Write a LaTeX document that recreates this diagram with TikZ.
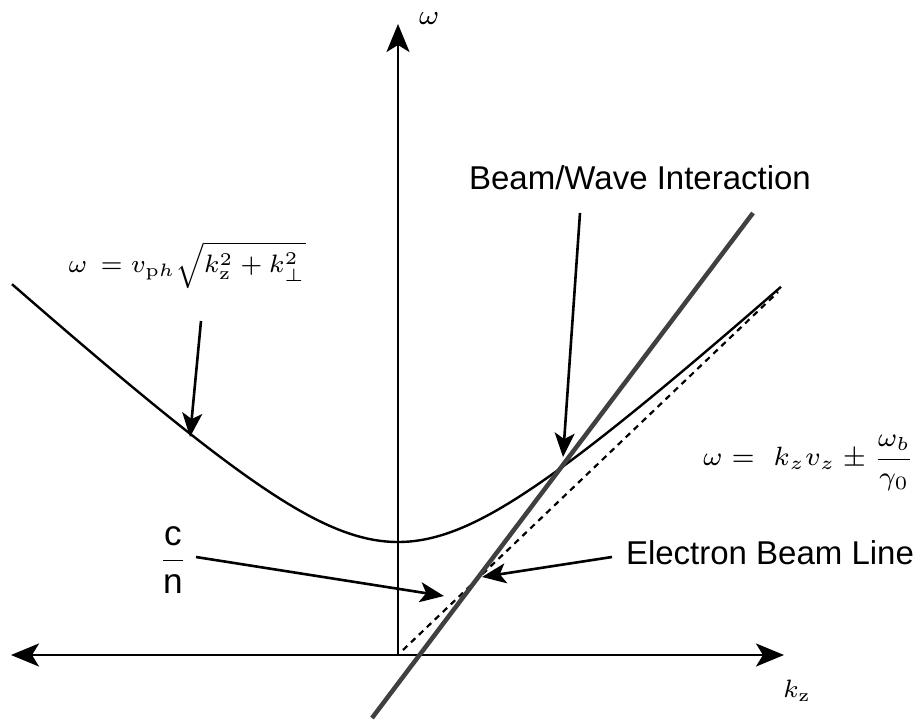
\documentclass[tikz,border=0pt]{standalone}
\usepackage{amsmath}
\usepackage{graphicx}
\usepackage{fontspec}
\newfontfamily\labfont{Liberation Sans}
\usetikzlibrary{arrows.meta}
\begin{document}
\begin{tikzpicture}[x=1pt,y=-1pt,
  axis/.style={line width=2.6pt,-{Stealth[length=28pt,width=23pt,inset=7pt]}},
  pointer/.style={line width=2.6pt,-{Stealth[length=24pt,width=20pt,inset=6pt]}},
  curve/.style={line width=2.4pt},
  beam/.style={line width=4.5pt,color=black!75},
  lab/.style={font=\labfont\fontsize{33}{40}\selectfont,inner sep=0pt},
  mathlab/.style={inner sep=0pt,font=\scriptsize}]
\useasboundingbox (0,0) rectangle (923,722);
% axes
\coordinate (O) at (398,655);
\coordinate (ytop) at (398,24);
\coordinate (xl) at (11,655);
\coordinate (xr) at (784,655);
\draw[axis] (O) -- (ytop);
\draw[axis,{Stealth[length=28pt,width=23pt,inset=7pt]}-{Stealth[length=28pt,width=23pt,inset=7pt]}] (xl) -- (xr);
\node[mathlab] (wlab) at (429,19) {\resizebox{21pt}{!}{$\omega$}};
\node[mathlab] (kzlab) at (797,691) {\resizebox{28pt}{!}{$k_{\mathrm{z}}$}};
% dispersion curve
\draw[curve] plot[domain=-3.86:3.83,samples=120,smooth] ({398+100*\x},{655-100*sqrt(1.2769+(0.915*\x)^2)});
% dotted asymptote
\coordinate (d1) at (403,650);
\coordinate (d2) at (778,292);
\draw[line width=2.2pt,dash pattern=on 6pt off 5pt] (d1) -- (d2);
% beam line
\coordinate (b1) at (372,718);
\coordinate (b2) at (753,213);
\draw[beam] (b1) -- (b2);
% labels
\node[mathlab] (f1) at (187,265) {\resizebox{237pt}{!}{$\omega\,=v_{\mathrm{p}h}\sqrt{k_{\mathrm{z}}^2+k_{\perp}^2}$}};
\node[mathlab] (f2) at (809,463) {\resizebox{212pt}{!}{$\omega=\ k_z v_z\pm\dfrac{\omega_b}{\gamma_0}$}};
\node[lab] (bw) at (640,178) {Beam/Wave Interaction};
\node[lab] (ebl) at (770,553) {Electron Beam Line};
\node[mathlab] (cn) at (173,560) {\resizebox{28pt}{!}{\normalsize$\dfrac{\hbox{\labfont c}}{\hbox{\labfont n}}$}};
% pointers
\coordinate (p1s) at (201,321);
\coordinate (p1e) at (190,437);
\draw[pointer] (p1s) -- (p1e);
\coordinate (p2s) at (580,213);
\coordinate (p2e) at (563,457);
\draw[pointer] (p2s) -- (p2e);
\coordinate (p3s) at (196,557);
\coordinate (p3e) at (444,596);
\draw[pointer] (p3s) -- (p3e);
\coordinate (p4s) at (612,557);
\coordinate (p4e) at (482,577);
\draw[pointer] (p4s) -- (p4e);
\end{tikzpicture}
\end{document}
